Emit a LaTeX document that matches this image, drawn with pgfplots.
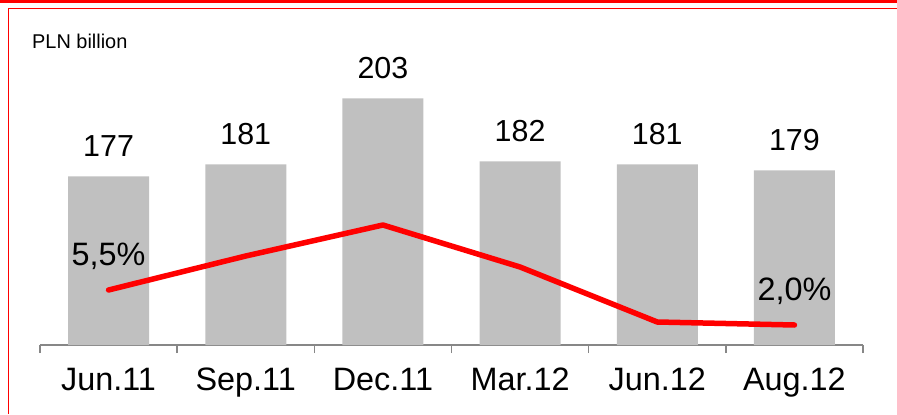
\documentclass[border=0pt]{standalone}
\usepackage{fontspec}
\setmainfont{Liberation Sans}
\usepackage{pgfplots}
\pgfplotsset{compat=1.18}
\definecolor{bargray}{HTML}{C0C0C0}
\definecolor{axgray}{HTML}{878787}
\begin{document}
\begin{tikzpicture}[x=1bp,y=1bp]
\useasboundingbox (0,0) rectangle (897,414);
\fill[red] (0,411) rectangle (897,414);
\draw[red, line width=1.5bp] (8.5,0) -- (8.5,405.5) -- (897,405.5);
\node[anchor=base west, inner sep=0pt, font=\fontsize{20}{24}\selectfont] at (32,366) {PLN billion};
\begin{axis}[
  at={(40bp,69bp)}, anchor=south west, scale only axis,
  width=823bp, height=300bp,
  xmin=-0.5, xmax=5.5, ymin=121, ymax=220.7,
  axis y line=none, axis x line=bottom,
  x axis line style={-, draw=axgray, line width=1.5bp},
  ybar, bar width=81bp, bar shift=0pt,
  xtick={0,...,5},
  xticklabels={Jun.11,Sep.11,Dec.11,Mar.12,Jun.12,Aug.12},
  major tick length=0pt,
  minor xtick={-0.5,0.5,1.5,2.5,3.5,4.5,5.5},
  minor tick length=8bp, tick align=outside,
  minor tick style={draw=axgray, line width=1.5bp},
  xticklabel style={font=\fontsize{32.5}{38}\selectfont, anchor=base, yshift=-45bp},
  /pgf/number format/assume math mode=true,
  nodes near coords,
  every node near coord/.append style={font=\fontsize{30.5}{36}\selectfont, anchor=base, yshift=20bp, inner sep=0pt},
  clip=false,
]
\addplot[fill=bargray, draw=none] coordinates {(0,177) (1,181) (2,203) (3,182) (4,181) (5,179)};
\end{axis}
\begin{axis}[
  at={(40bp,69bp)}, anchor=south west, scale only axis,
  width=823bp, height=300bp,
  xmin=-0.5, xmax=5.5, ymin=0, ymax=30,
  hide axis, clip=false,
  /pgf/number format/assume math mode=true,
]
\addplot[red, line width=5.5bp, line join=round, line cap=round] coordinates {(0,5.5) (1,8.9) (2,12.0) (3,7.8) (4,2.3) (5,2.0)};
\addplot[draw=none, mark=none,
  nodes near coords={\pgfmathprintnumber[use comma,fixed,fixed zerofill,precision=1]{\pgfplotspointmeta}\%},
  every node near coord/.append style={font=\fontsize{32.5}{38}\selectfont, anchor=base, yshift=25bp, inner sep=0pt, text=black}]
  coordinates {(0,5.5) (5,2.0)};
\end{axis}
\end{tikzpicture}
\end{document}
